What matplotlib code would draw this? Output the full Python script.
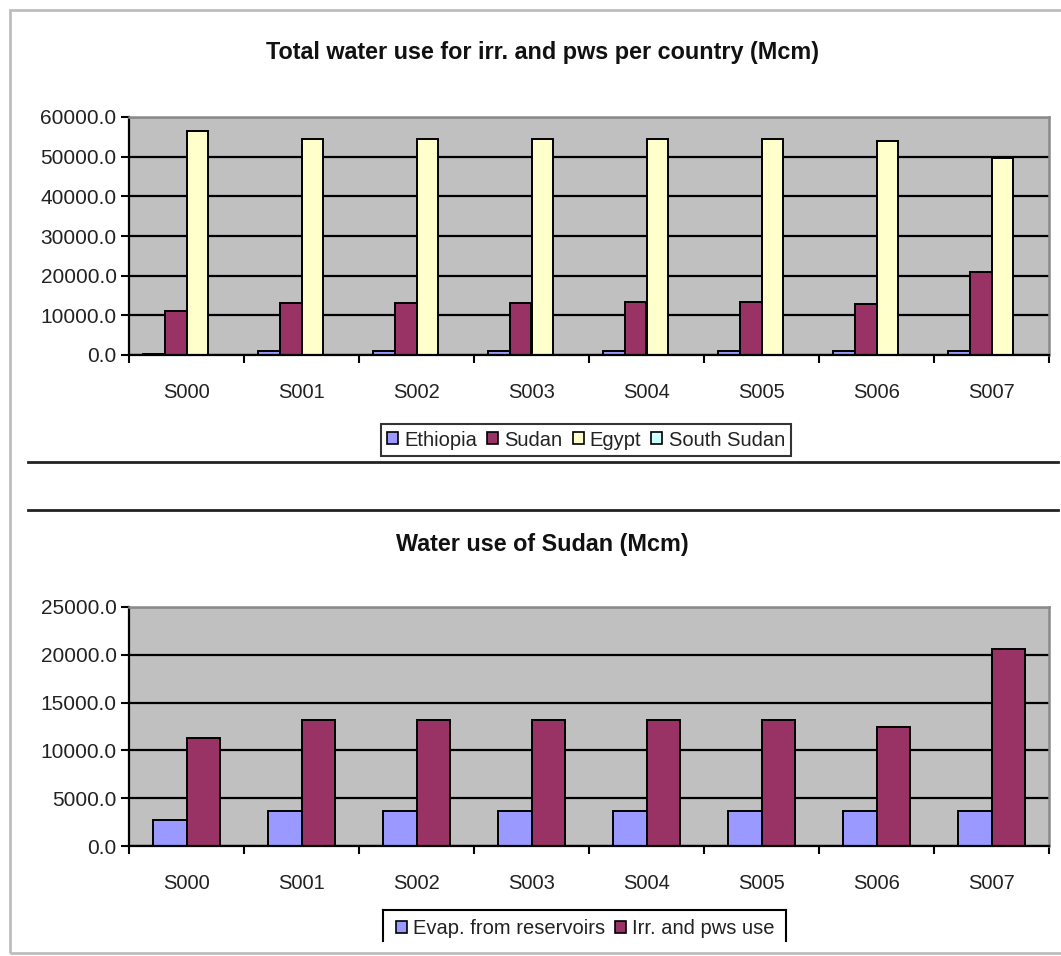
import matplotlib
matplotlib.use("Agg")
import matplotlib.pyplot as plt
import numpy as np
from matplotlib.lines import Line2D
from matplotlib.patches import Rectangle, Patch
from matplotlib.ticker import FormatStrFormatter, FixedLocator

plt.rcParams['font.family'] = ['Liberation Sans', 'DejaVu Sans']

scenarios = ["S000", "S001", "S002", "S003", "S004", "S005", "S006", "S007"]

# Top chart: total water use for irr. and pws per country (Mcm)
ethiopia = [300, 1000, 1000, 1000, 1000, 1000, 1000, 1000]
sudan = [11200, 13200, 13200, 13200, 13300, 13300, 12900, 20900]
egypt = [56450, 54350, 54350, 54350, 54350, 54350, 53950, 49700]
south_sudan = [0, 0, 0, 0, 0, 0, 0, 0]
top_names = ["Ethiopia", "Sudan", "Egypt", "South Sudan"]
top_yticks = [0, 10000, 20000, 30000, 40000, 50000, 60000]

# Bottom chart: water use of Sudan (Mcm)
evap_reservoirs = [2740, 3610, 3610, 3610, 3610, 3610, 3610, 3610]
irr_pws_use = [11250, 13150, 13150, 13150, 13150, 13150, 12450, 20620]
bottom_names = ["Evap. from reservoirs", "Irr. and pws use"]
bottom_yticks = [0, 5000, 10000, 15000, 20000, 25000]

W, H = 1061, 956
fig = plt.figure(figsize=(W / 100, H / 100), dpi=100)
fig.patch.set_facecolor("white")

def fx(px):
    return px / W

def fy(py):
    return 1 - py / H

PLOT_BG = "#C0C0C0"
C_ETH = "#9999FF"
C_SUD = "#993366"
C_EGY = "#FFFFCC"
C_SSD = "#CCFFFF"
TXT = "#222222"

def style_axes(ax, yticks, fmt="%.1f"):
    ax.set_facecolor(PLOT_BG)
    ax.set_axisbelow(True)
    ax.set_ylim(yticks[0], yticks[-1])
    ax.set_yticks(yticks)
    ax.yaxis.set_major_formatter(FormatStrFormatter(fmt))
    ax.yaxis.grid(True, color="black", linewidth=1.6)
    ax.set_xlim(-0.5, len(scenarios) - 0.5)
    ax.set_xticks(np.arange(len(scenarios)))
    ax.set_xticklabels(scenarios)
    ax.xaxis.set_minor_locator(FixedLocator(np.arange(len(scenarios) + 1) - 0.5))
    ax.tick_params(axis="x", which="major", length=0, pad=20, labelsize=14.5, labelcolor=TXT)
    ax.tick_params(axis="x", which="minor", length=6, width=1.5, direction="out", color="black")
    ax.tick_params(axis="y", which="major", length=6, width=1.5, direction="out", pad=3,
                   labelsize=15, labelcolor=TXT)
    for s in ("left", "bottom"):
        ax.spines[s].set_color("black")
        ax.spines[s].set_linewidth(1.6)
    for s in ("top", "right"):
        ax.spines[s].set_color("#8a8a8a")
        ax.spines[s].set_linewidth(1.8)

# ---- top chart ----
ax1 = fig.add_axes([fx(129), fy(355), fx(1049) - fx(129), fy(117) - fy(355)])
x = np.arange(len(scenarios))
w1 = 0.187
top_series = [ethiopia, sudan, egypt, south_sudan]
top_colors = [C_ETH, C_SUD, C_EGY, C_SSD]
for i, (vals, col) in enumerate(zip(top_series, top_colors)):
    ax1.bar(x + (i - 1.5) * w1, vals, width=w1, color=col, edgecolor="black",
            linewidth=1.4, zorder=2)
style_axes(ax1, top_yticks)

# ---- bottom chart ----
ax2 = fig.add_axes([fx(129), fy(846), fx(1049) - fx(129), fy(607) - fy(846)])
w2 = 0.29
for i, (vals, col) in enumerate(zip([evap_reservoirs, irr_pws_use], [C_ETH, C_SUD])):
    ax2.bar(x + (i - 0.5) * w2, vals, width=w2, color=col, edgecolor="black",
            linewidth=1.4, zorder=2)
style_axes(ax2, bottom_yticks)

# ---- titles ----
fig.text(fx(543), fy(52), "Total water use for irr. and pws per country (Mcm)",
         ha="center", va="center", fontsize=16.8, fontweight="bold", color="#111111")
fig.text(fx(542), fy(544), "Water use of Sudan (Mcm)",
         ha="center", va="center", fontsize=16.8, fontweight="bold", color="#111111")

# ---- legends ----
top_handles = [Patch(facecolor=c, edgecolor="black", linewidth=1.2) for c in top_colors]
leg1 = fig.legend(top_handles, top_names, loc="center", bbox_to_anchor=(fx(586), fy(440)),
                  ncol=4, fontsize=14.5, frameon=True, fancybox=False, edgecolor="black",
                  handlelength=0.55, handleheight=0.55, handletextpad=0.3, columnspacing=0.5,
                  borderpad=0.3, borderaxespad=0)
leg1.get_frame().set_linewidth(1.5)
for t in leg1.get_texts():
    t.set_color(TXT)

bot_handles = [Patch(facecolor=c, edgecolor="black", linewidth=1.2) for c in [C_ETH, C_SUD]]
leg2 = fig.legend(bot_handles, bottom_names, loc="center", bbox_to_anchor=(fx(585), fy(929)),
                  ncol=2, fontsize=14.5, frameon=False,
                  handlelength=0.55, handleheight=0.55, handletextpad=0.3, columnspacing=0.5,
                  borderpad=0.3, borderaxespad=0)
for t in leg2.get_texts():
    t.set_color(TXT)
# partial legend frame (cut off at the bottom in the original)
for (x0, y0, x1, y1) in [(383, 910, 786, 910), (383, 910, 383, 941), (786, 910, 786, 941)]:
    fig.add_artist(Line2D([fx(x0), fx(x1)], [fy(y0), fy(y1)], color="black", linewidth=1.5))

# ---- separator lines and outer frame ----
for yy in (462, 510):
    fig.add_artist(Line2D([fx(28), fx(1058)], [fy(yy), fy(yy)], color="#222222", linewidth=2))
fig.add_artist(Rectangle((fx(10), fy(953)), fx(1070) - fx(10), fy(10) - fy(953),
                         fill=False, edgecolor="#bdbdbd", linewidth=2, transform=fig.transFigure))

fig.savefig("out.png", dpi=100, facecolor="white")
